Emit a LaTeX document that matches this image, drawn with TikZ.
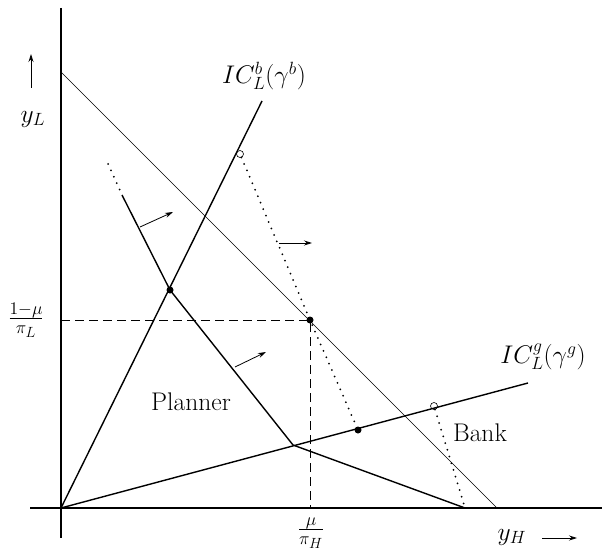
\documentclass[tikz,border=0pt]{standalone}
\usetikzlibrary{arrows.meta}
\begin{document}
\begin{tikzpicture}[x=1pt,y=-1pt,
  font=\fontsize{20.74}{25}\selectfont,
  axis/.style={line width=1.7pt},
  thinline/.style={line width=0.7pt},
  thickline/.style={line width=1.4pt},
  dotline/.style={line width=2pt, dash pattern=on 0pt off 7pt, line cap=round},
  dashline/.style={line width=0.9pt, dash pattern=on 9pt off 5pt},
  arr/.style={line width=0.8pt, -{Stealth[length=8pt,width=5pt]}},
  dotnode/.style={circle, fill=black, inner sep=0pt, minimum size=7pt},
  opennode/.style={circle, draw=black, line width=0.6pt, inner sep=0pt, minimum size=7pt},
  lbl/.style={inner sep=0pt, scale=1.23}]
\useasboundingbox (0,0) rectangle (602,556);
% coordinates
\coordinate (O) at (61,508);
\coordinate (Ytop) at (61,8);
\coordinate (Ybot) at (61,538);
\coordinate (Xl) at (30,508);
\coordinate (Xr) at (602,508);
\coordinate (Bt) at (61,72);
\coordinate (Bb) at (497,508);
\coordinate (ICbEnd) at (262,101);
\coordinate (ICgEnd) at (528,383);
\coordinate (P0) at (108,164);
\coordinate (P1) at (122,195);
\coordinate (Kink) at (293,445);
\coordinate (P3) at (465,508);
\coordinate (A1s) at (140,227); \coordinate (A1e) at (173,212);
\coordinate (A2s) at (235,367); \coordinate (A2e) at (266,352);
\coordinate (A3s) at (279,243); \coordinate (A3e) at (312,243);
\coordinate (UAs) at (31,88); \coordinate (UAe) at (31,54);
\coordinate (RAs) at (542,538); \coordinate (RAe) at (577,538);
\coordinate (DH) at (61,320);
\coordinate (DV) at (310,508);
% axes
\draw[axis] (Ytop) -- (Ybot);
\draw[axis] (Xl) -- (Xr);
% budget line
\draw[thinline] (Bt) -- (Bb);
% IC lines
\draw[thickline] (O) -- (ICbEnd);
\draw[thickline] (O) -- (ICgEnd);
% dots
\node[dotnode] (D1) at (170,290) {};
\node[dotnode] (D2) at (310,320) {};
\node[dotnode] (D3) at (358,430) {};
\node[opennode] (C1) at (240,154) {};
\node[opennode] (C2) at (434,406) {};
% planner line
\draw[thickline] (P1) -- (D1.center) -- (Kink) -- (P3);
\draw[dotline] (P0) -- (P1);
% dotted bank lines
\draw[dotline] (C1) -- (D2.center) -- (D3.center);
\draw[dotline] (C2) -- (P3);
% dashed
\draw[dashline] (DH) -- (D2.center) -- (DV);
% arrows
\draw[arr] (A1s) -- (A1e);
\draw[arr] (A2s) -- (A2e);
\draw[arr] (A3s) -- (A3e);
\draw[arr] (UAs) -- (UAe);
\draw[arr] (RAs) -- (RAe);
% labels
\node[lbl] (Lb) at (264,76) {$IC_L^b(\gamma^b)$};
\node[lbl] (Lg) at (543,357) {$IC_L^g(\gamma^g)$};
\node[lbl] (LyL) at (33,119) {$y_L$};
\node[lbl] (LyH) at (512,537) {$y_H$};
\node[lbl] (Lf1) at (26,320) {$\frac{1-\mu}{\pi_L}$};
\node[lbl] (Lf2) at (311,533) {$\frac{\mu}{\pi_H}$};
\node[lbl] (Lp) at (191,402) {Planner};
\node[lbl] (Lbank) at (480,433) {Bank};
\end{tikzpicture}
\end{document}
